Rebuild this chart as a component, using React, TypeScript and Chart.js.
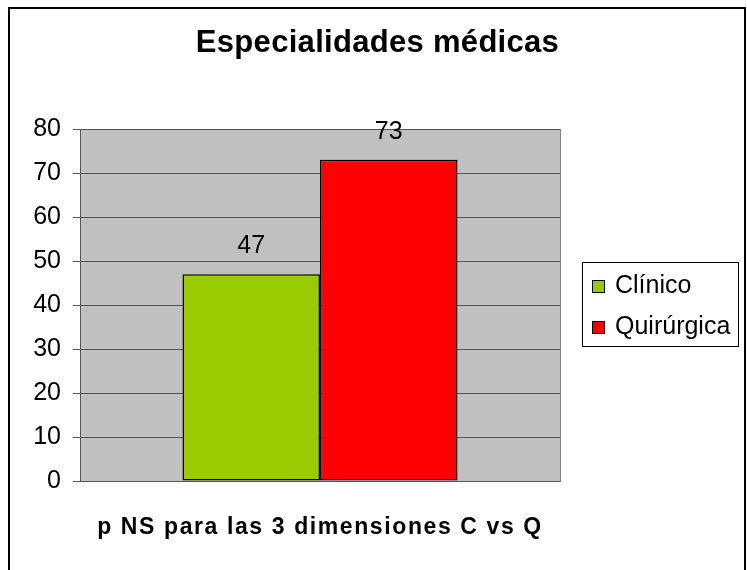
import React, { useEffect, useRef } from "react";
import { Chart, registerables } from "chart.js";

Chart.register(...registerables);

const TITLE = "Especialidades médicas";
const X_TITLE = "p NS para las 3 dimensiones C vs Q";
const categories = [""];
const seriesLabels = ["Clínico", "Quirúrgica"];
const clinicoValues = [47];
const quirurgicaValues = [73];
const seriesColors = ["#99CC00", "#FF0000"];
const yMin = 0;
const yMax = 80;
const yStep = 10;

const FONT = "'Liberation Sans', Arial, sans-serif";

const decorPlugin = {
  id: "decor",
  beforeDraw(chart: any) {
    const { ctx, chartArea } = chart;
    ctx.save();
    ctx.fillStyle = "#FFFFFF";
    ctx.fillRect(0, 0, chart.width, chart.height);
    ctx.fillStyle = "#C0C0C0";
    ctx.fillRect(chartArea.left, chartArea.top, chartArea.right - chartArea.left, chartArea.bottom - chartArea.top);
    ctx.restore();
  },
  afterDraw(chart: any) {
    const { ctx, chartArea } = chart;
    ctx.save();
    // plot area right border
    ctx.strokeStyle = "#808080";
    ctx.lineWidth = 1;
    ctx.beginPath();
    ctx.moveTo(Math.round(chartArea.right) + 0.5, chartArea.top);
    ctx.lineTo(Math.round(chartArea.right) + 0.5, chartArea.bottom + 1);
    ctx.stroke();

    // outer border
    ctx.strokeStyle = "#000000";
    ctx.lineWidth = 2;
    ctx.strokeRect(9, 8, 736, 640);

    // title
    ctx.fillStyle = "#000000";
    ctx.font = `bold 31px ${FONT}`;
    (ctx as any).letterSpacing = "0.3px";
    ctx.textBaseline = "alphabetic";
    ctx.textAlign = "left";
    let w = ctx.measureText(TITLE).width;
    ctx.fillText(TITLE, 377.5 - w / 2, 52);

    // x title
    ctx.font = `bold 23px ${FONT}`;
    (ctx as any).letterSpacing = "1.6px";
    w = ctx.measureText(X_TITLE).width;
    ctx.fillText(X_TITLE, (chartArea.left + chartArea.right) / 2 - w / 2, 534);
    (ctx as any).letterSpacing = "0px";

    // data labels
    ctx.font = `25px ${FONT}`;
    ctx.textAlign = "center";
    ctx.textBaseline = "middle";
    chart.data.datasets.forEach((ds: any, i: number) => {
      const meta = chart.getDatasetMeta(i);
      meta.data.forEach((el: any, j: number) => {
        ctx.fillText(String(ds.data[j]), el.x, el.y - 28);
      });
    });

    // legend
    ctx.lineWidth = 1;
    ctx.strokeStyle = "#000000";
    ctx.strokeRect(582.5, 262.5, 156, 84);
    ctx.textAlign = "left";
    ctx.textBaseline = "alphabetic";
    ctx.font = `25px ${FONT}`;
    chart.data.datasets.forEach((ds: any, i: number) => {
      const base = 293 + i * 41;
      ctx.fillStyle = ds.backgroundColor;
      ctx.fillRect(592, base - 13, 13, 13);
      ctx.strokeRect(592.5, base - 12.5, 12, 12);
      ctx.fillStyle = "#000000";
      ctx.fillText(ds.label, 615, base);
    });
    ctx.restore();
  },
};

export default function App() {
  const ref = useRef<HTMLCanvasElement | null>(null);
  useEffect(() => {
    if (!ref.current) return;
    const chart = new Chart(ref.current, {
      type: "bar",
      data: {
        labels: categories,
        datasets: [
          {
            label: seriesLabels[0],
            data: clinicoValues,
            backgroundColor: seriesColors[0],
            borderColor: "#000000",
            borderWidth: 1.5,
            borderSkipped: false,
          },
          {
            label: seriesLabels[1],
            data: quirurgicaValues,
            backgroundColor: seriesColors[1],
            borderColor: "#000000",
            borderWidth: 1.5,
            borderSkipped: false,
          },
        ],
      },
      options: {
        responsive: false,
        animation: false,
        devicePixelRatio: 1,
        layout: { padding: { top: 129, right: 187, bottom: 0, left: 0 } },
        datasets: { bar: { categoryPercentage: 0.573, barPercentage: 1 } },
        plugins: {
          legend: { display: false },
          title: { display: false },
          tooltip: { enabled: false },
        },
        scales: {
          x: {
            ticks: { display: false },
            grid: { display: false },
            border: { display: true, color: "#555555" },
            afterFit: (s: any) => {
              s.height = 89;
            },
          },
          y: {
            min: yMin,
            max: yMax,
            ticks: {
              stepSize: yStep,
              padding: 12,
              color: "#000000",
              font: { family: FONT, size: 25 },
            },
            grid: { color: "#555555", tickLength: 7, drawTicks: true },
            border: { display: true, color: "#555555" },
            afterFit: (s: any) => {
              s.width = 80;
            },
          },
        },
      },
      plugins: [decorPlugin],
    });
    return () => chart.destroy();
  }, []);
  return (
    <canvas
      ref={ref}
      width={747}
      height={570}
      style={{ position: "fixed", left: 0, top: 0, width: 747, height: 570 }}
    />
  );
}
